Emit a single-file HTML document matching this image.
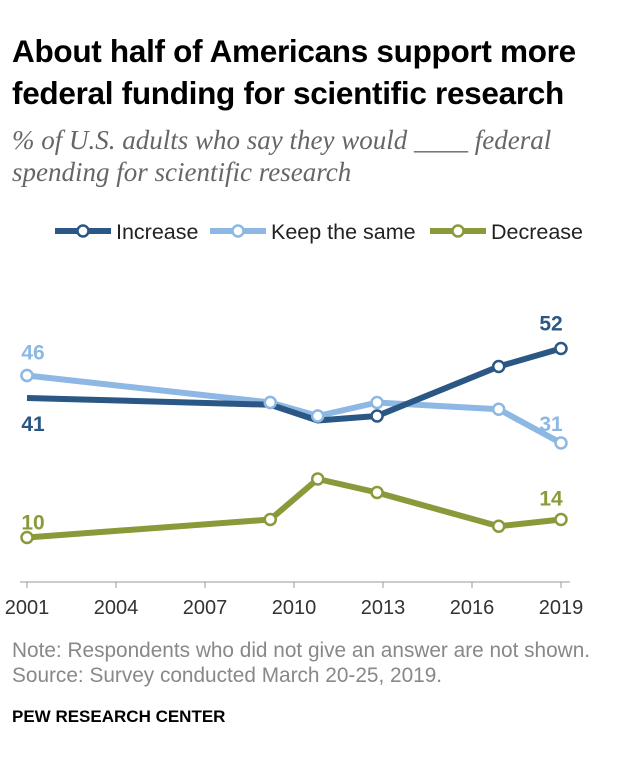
<!DOCTYPE html>
<html><head><meta charset="utf-8"><style>
body{margin:0;width:620px;height:768px;background:#fff;font-family:"Liberation Sans",sans-serif;position:relative;overflow:hidden}
.t{position:absolute;left:12px;top:30px;font-size:31.5px;font-weight:bold;line-height:42px;color:#000;letter-spacing:-0.3px}
.s{position:absolute;left:12px;top:124px;font-family:"Liberation Serif",serif;font-style:italic;font-size:27px;line-height:32px;color:#666}
.n{position:absolute;left:12px;top:638px;font-size:20.8px;line-height:25px;color:#888}
.p{position:absolute;left:12px;top:707px;font-size:17px;font-weight:bold;color:#000}
</style></head><body>
<div class="t">About half of Americans support more<br>federal funding for scientific research</div>
<div class="s">% of U.S. adults who say they would ____ federal<br>spending for scientific research</div>
<svg id="c" width="620" height="640" style="position:absolute;left:0;top:0"></svg>
<div class="n">Note: Respondents who did not give an answer are not shown.<br>Source: Survey conducted March 20-25, 2019.</div>
<div class="p">PEW RESEARCH CENTER</div>
<script>
const years=[2001,2009.2,2010.8,2012.8,2016.9,2019];
const increase=[41,39.5,36,37,48,52];
const keepSame=[46,40,37,40,38.5,31];
const decrease=[10,14,23,20,12.5,14];
const tickYears=[2001,2004,2007,2010,2013,2016,2019];
const NS="http://www.w3.org/2000/svg";
const svg=document.getElementById('c');
const x=v=>27+(v-2001)*(534/18);
const y=v=>582.5-4.5*v;
function mk(t,a){const e=document.createElementNS(NS,t);for(const k in a)e.setAttribute(k,a[k]);svg.appendChild(e);return e;}
const ax=mk('line',{x1:20,x2:570,y1:582,y2:582,stroke:'#999','stroke-width':1});


tickYears.forEach(t=>{
 const l=mk('line',{x1:x(t),x2:x(t),y1:582,y2:588,stroke:'#999'});
 
 
 const tx=mk('text',{x:x(t),y:614,'text-anchor':'middle','font-size':20,fill:'#333'});
 tx.textContent=t;
 
 
});
const series=[[keepSame,'#8db8e4','keep-the-same'],[decrease,'#8a9a3a','decrease'],[increase,'#2a5783','increase']];
series.forEach(([d,c,n])=>{
 const pts=d.map((v,i)=>x(years[i])+','+y(v)).join(' ');
 const pl=mk('polyline',{points:pts,fill:'none',stroke:c,'stroke-width':6,'stroke-linejoin':'round'});
 
 
 d.forEach((v,i)=>{
  if(n==='increase'&&(i===0||i===1||i===2))return;
  const ci=mk('circle',{cx:x(years[i]),cy:y(v),r:5.5,fill:'#fff',stroke:c,'stroke-width':2.5});
  
  
 });
});
[0,1,2].forEach(i=>{const ci=mk('circle',{cx:x(years[i]),cy:y(keepSame[i]),r:5.5,fill:'#fff',stroke:'#8db8e4','stroke-width':2.5});
 
 });
const labs=[[x(2001)+6,y(keepSame[0])-16,keepSame[0],'#8db8e4'],[x(2001)+6,y(increase[0])+33,increase[0],'#2a5783'],[x(2001)+6,y(decrease[0])-8,decrease[0],'#8a9a3a'],
[x(2019)-10,y(increase[5])-18,increase[5],'#2a5783'],[x(2019)-10,y(keepSame[5])-12,keepSame[5],'#8db8e4'],[x(2019)-10,y(decrease[5])-14,decrease[5],'#8a9a3a']];
labs.forEach(([lx,ly,v,c])=>{const t=mk('text',{x:lx,y:ly,'text-anchor':'middle','font-size':21,'font-weight':'bold',fill:c});t.textContent=Math.round(v);
 
 });
const leg=[[55,'Increase','#2a5783'],[210,'Keep the same','#8db8e4'],[430,'Decrease','#8a9a3a']];
leg.forEach(([lx,txt,c])=>{
 const l=mk('line',{x1:lx,x2:lx+56,y1:231,y2:231,stroke:c,'stroke-width':6});
 
 
 const ci=mk('circle',{cx:lx+28,cy:231,r:5.5,fill:'#fff',stroke:c,'stroke-width':2.5});
 
 
 const t=mk('text',{x:lx+61,y:239,'font-size':21.5,fill:'#222'});t.textContent=txt;
 
 
});
</script>
</body></html>
